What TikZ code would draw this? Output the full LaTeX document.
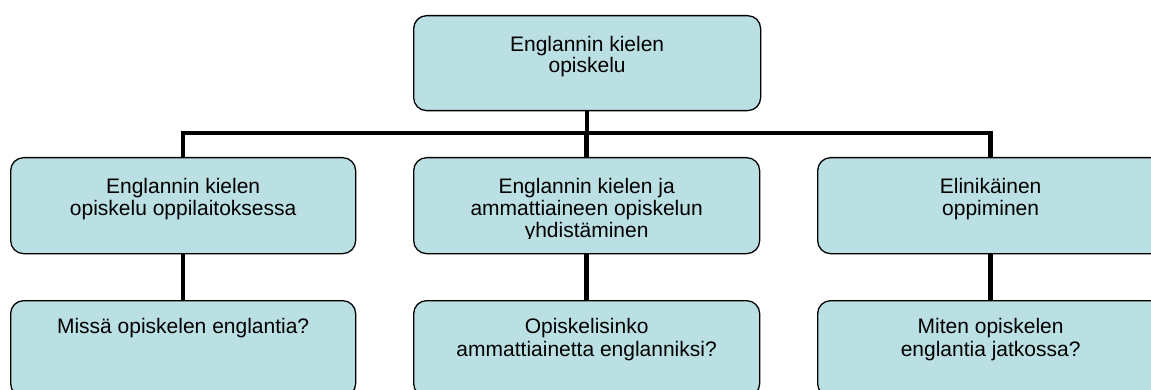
\documentclass[tikz,border=0pt]{standalone}
\usepackage{fontspec}
\setmainfont{Liberation Sans}
\definecolor{boxfill}{RGB}{187,224,227}
\begin{document}
\begin{tikzpicture}[x=1pt,y=-1pt,
  box/.style={draw=black, line width=1.3pt, fill=boxfill, rounded corners=13pt, inner sep=0pt, anchor=north west},
  lbl/.style={anchor=north, inner sep=0pt, align=center, font=\fontsize{21}{22}\selectfont},
  conn/.style={line width=4.5pt}]
\useasboundingbox (0,0) rectangle (1151,390);
% boxes
\node[box, minimum width=347pt, minimum height=95pt] (top) at (413,15) {};
\node[box, minimum width=345pt, minimum height=96pt] (b1) at (10,157) {};
\node[box, minimum width=346pt, minimum height=96pt] (b2) at (413,157) {};
\node[box, minimum width=346pt, minimum height=96pt] (b3) at (817,157) {};
\node[box, minimum width=345pt, minimum height=96pt] (c1) at (10,300) {};
\node[box, minimum width=346pt, minimum height=96pt] (c2) at (413,300) {};
\node[box, minimum width=346pt, minimum height=96pt] (c3) at (817,300) {};
% connectors
\coordinate (hub) at (586.5,133);
\draw[conn] (top.south) -- (top.south |- hub);
\draw[conn] (b1.north) -- (b1.north |- hub) -- (b3.north |- hub) -- (b3.north);
\draw[conn] (b2.north) -- (b2.north |- hub);
\draw[conn] (b1.south) -- (c1.north);
\draw[conn] (b2.south) -- (c2.north);
\draw[conn] (b3.south) -- (c3.north);
% texts
\node[lbl, font=\fontsize{21}{21}\selectfont] (topt) at (top.north |- 0,36) {Englannin kielen\\opiskelu};
\node[lbl] (b1t) at (b1.north |- 0,177.7) {Englannin kielen\\opiskelu oppilaitoksessa};
\begin{scope}
  \clip (413,157) rectangle (759,238.3);
  \node[lbl] (b2t) at (b2.north |- 0,177.7) {Englannin kielen ja\\ammattiaineen opiskelun\\yhdistäminen};
\end{scope}
\node[lbl] (b3t) at (b3.north |- 0,177.7) {Elinikäinen\\oppiminen};
\node[lbl] (c1t) at (c1.north |- 0,318.3) {Missä opiskelen englantia?};
\node[lbl, font=\fontsize{21}{22.5}\selectfont] (c2t) at (c2.north |- 0,318.3) {Opiskelisinko\\ammattiainetta englanniksi?};
\node[lbl, font=\fontsize{21}{23}\selectfont] (c3t) at (c3.north |- 0,318.3) {Miten opiskelen\\englantia jatkossa?};
\end{tikzpicture}
\end{document}
